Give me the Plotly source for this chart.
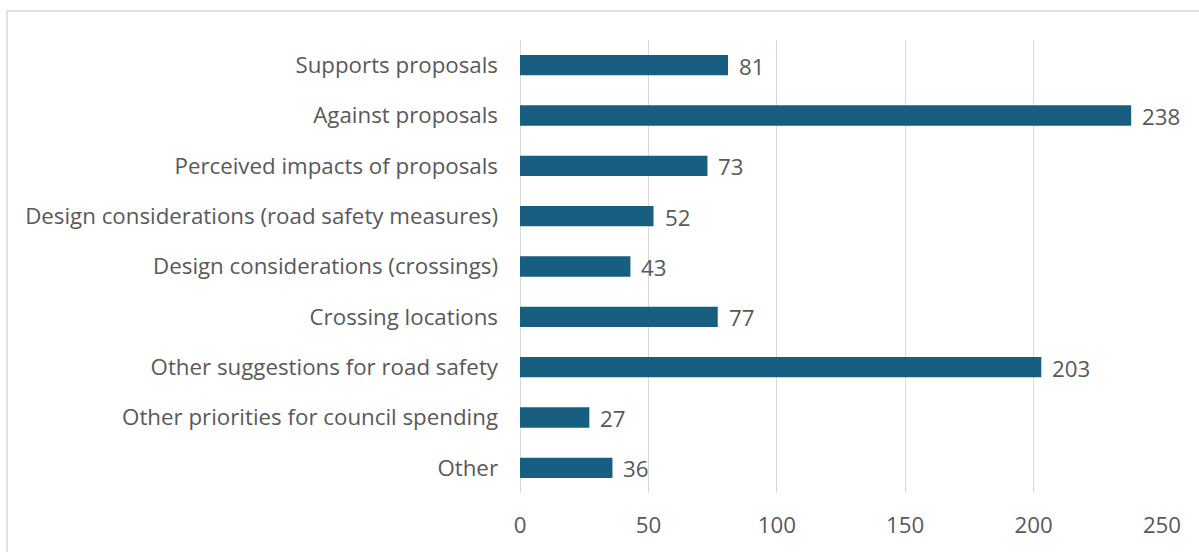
import plotly.graph_objects as go

# Response themes and the number of comments coded to each
categories = [
    "Supports proposals",
    "Against proposals",
    "Perceived impacts of proposals",
    "Design considerations (road safety measures)",
    "Design considerations (crossings)",
    "Crossing locations",
    "Other suggestions for road safety",
    "Other priorities for council spending",
    "Other",
]
counts = [81, 238, 73, 52, 43, 77, 203, 27, 36]
tick_values = [0, 50, 100, 150, 200, 250]

W, H = 1199, 552
ML, MR, MT, MB = 520, 37, 40, 53
FONT = "Open Sans"
TEXT = "#595959"
BAR = "#175e80"
FS = 22.3

fig = go.Figure(
    go.Bar(
        x=counts,
        y=categories,
        orientation="h",
        marker=dict(color=BAR, line=dict(width=0)),
        width=0.405,
        hoverinfo="x+y",
    )
)

# Value labels to the right of each bar
for cat, val in zip(categories, counts):
    fig.add_annotation(
        x=val, y=cat, text=str(val), showarrow=False,
        xanchor="left", yanchor="middle", xshift=9, yshift=-1,
        font=dict(family=FONT, size=FS, color=TEXT),
    )

# Light frame around the chart area (right and bottom edges run off the page)
pw = W - ML - MR
ph = H - MT - MB
fig.add_shape(
    type="rect", xref="paper", yref="paper",
    x0=(7 - ML) / pw, x1=(W + 60 - ML) / pw,
    y0=-(H + 60 - MT - ph) / ph, y1=1 + (MT - 10.5) / ph,
    line=dict(color="#d9d9d9", width=1.5), fillcolor="rgba(0,0,0,0)",
    layer="below",
)

fig.update_layout(
    width=W, height=H,
    margin=dict(l=ML, r=MR, t=MT, b=MB),
    paper_bgcolor="white", plot_bgcolor="white",
    showlegend=False,
    font=dict(family=FONT, size=FS, color=TEXT),
    xaxis=dict(
        range=[0, 250], tickvals=tick_values,
        showgrid=True, gridcolor="#d9d9d9", gridwidth=1.3,
        zeroline=True, zerolinecolor="#d9d9d9", zerolinewidth=1.3,
        showline=False, ticks="", ticklabelstandoff=17,
        tickfont=dict(family=FONT, size=FS, color=TEXT),
    ),
    yaxis=dict(
        categoryorder="array", categoryarray=categories[::-1],
        showgrid=False, showline=False, ticks="", ticklabelstandoff=21,
        tickfont=dict(family=FONT, size=FS, color=TEXT),
    ),
)

fig.write_html("out.html")
